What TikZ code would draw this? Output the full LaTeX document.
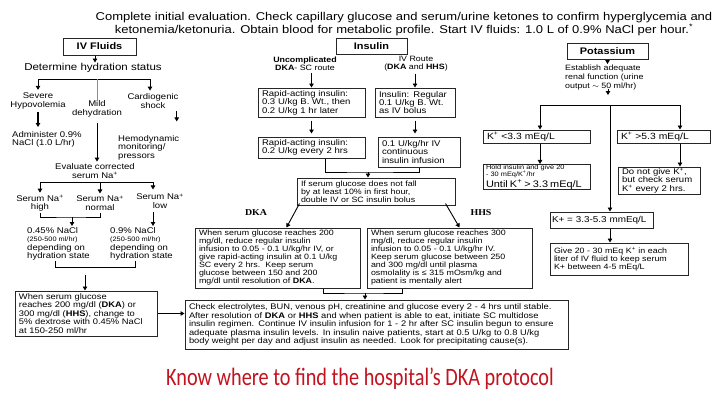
\documentclass[tikz,border=0pt]{standalone}
\usepackage{fontspec}
\setmainfont[FakeStretch=1.15]{Liberation Sans}
\newfontfamily\serifb[FakeStretch=1.1]{Liberation Serif}
\newfontfamily\footfont[FakeStretch=0.81]{Carlito}
\usetikzlibrary{arrows.meta,calc}
\definecolor{footred}{RGB}{196,18,30}
\newcommand\tightls{\lineskiplimit=-6pt\lineskip=0pt\relax}
\newcommand\smtxt{\fontsize{8.3}{8.4}\selectfont\tightls}
\newcommand\dktxt{\fontsize{7.7}{8}\selectfont\tightls}
\newcommand\esttxt{\fontsize{7.7}{8.8}\selectfont}
\newcommand\bottxt{\fontsize{8.1}{8.5}\selectfont\tightls}
\newcommand\tinytxt{\fontsize{6.4}{7}\selectfont}
\newcommand\hdtxt{\fontsize{11.3}{13}\selectfont}
\newcommand\mdtxt{\fontsize{10}{12}\selectfont}
\newcommand\ttltxt{\fontsize{9.5}{11}\selectfont\bfseries}
\newcommand\ktxt{\fontsize{9}{10}\selectfont}
\newcommand\kbtxt{\fontsize{9.5}{10}\selectfont}
\begin{document}
\begin{tikzpicture}[x=1pt,y=-1pt,
  bx/.style={draw=black!85, line width=1pt, inner xsep=4pt, inner ysep=1pt, align=left, font=\smtxt},
  tb/.style={draw=black!85, line width=1pt, inner sep=0pt, font=\ttltxt},
  lbl/.style={inner sep=0pt, align=center, font=\smtxt},
  arr/.style={-{Triangle[length=4pt,width=4.5pt]}, line width=0.9pt},
  ln/.style={line width=0.9pt}]
\useasboundingbox (0,0) rectangle (720,405);
\fill[white] (0,0) rectangle (720,405);

% header
\node[inner sep=0pt, align=center, font=\hdtxt] (head) at (404,24) {Complete initial evaluation. Check capillary glucose and serum/urine ketones to confirm hyperglycemia and\\ketonemia/ketonuria. Obtain blood for metabolic profile. Start IV fluids: 1.0 L of 0.9\% NaCl per hour.\textsuperscript{*}};

% ---------- IV fluids column
\node[tb, minimum width=73, minimum height=17] (ivf) at (99.5,46.5) {IV Fluids};
\node[lbl, font=\mdtxt] (det) at (93,68) {Determine hydration status};
\node[lbl] (sev) at (38,101) {Severe\\Hypovolemia};
\node[lbl] (mild) at (97,109) {Mild\\dehydration};
\node[lbl] (card) at (153,101) {Cardiogenic\\shock};
\node[lbl, anchor=north west, align=left] (adm) at (12,131) {Administer 0.9\%\\NaCl (1.0 L/hr)};
\node[lbl, anchor=north west, align=left] (hemo) at (118,135) {Hemodynamic\\monitoring/\\pressors};
\node[lbl] (eval) at (95,171) {Evaluate corrected\\serum Na\textsuperscript{+}};
\node[lbl] (nah) at (40,203) {Serum Na\textsuperscript{+}\\high};
\node[lbl] (nan) at (100,203) {Serum Na\textsuperscript{+}\\normal};
\node[lbl] (nal) at (160,201) {Serum Na\textsuperscript{+}\\low};
\node[lbl, anchor=north west, align=left] (c045) at (27,227) {0.45\% NaCl\\{\tinytxt (250-500 ml/hr)}\\depending on\\hydration state};
\node[lbl, anchor=north west, align=left] (c09) at (110,227) {0.9\% NaCl\\{\tinytxt (250-500 ml/hr)}\\depending on\\hydration state};
\node[bx, font=\bottxt, minimum width=142, text width=134, minimum height=45] (gl) at (86,313.5) {When serum glucose\\reaches 200 mg/dl (\textbf{DKA}) or\\300 mg/dl (\textbf{HHS}), change to\\5\% dextrose with 0.45\% NaCl\\at 150-250 ml/hr};

\node[bx, font=\bottxt, minimum width=383, text width=375, minimum height=49] (bot) at (376.5,324.5) {Check electrolytes, BUN, venous pH, creatinine and glucose every 2 - 4 hrs until stable.\\After resolution of \textbf{DKA} or \textbf{HHS} and when patient is able to eat, initiate SC multidose\\insulin regimen. Continue IV insulin infusion for 1 - 2 hr after SC insulin begun to ensure\\adequate plasma insulin levels. In insulin naive patients, start at 0.5 U/kg to 0.8 U/kg\\body weight per day and adjust insulin as needed. Look for precipitating cause(s).};

% connectors column 1
\coordinate (h1l) at (38,79);
\coordinate (h1r) at (150,79);
\coordinate (h1m) at (97,79);
\draw[arr] (ivf.south -| det.north) ++(2,0) -- ++(0,7);
\draw[ln] (h1l) -- (h1r);
\draw[arr] (h1l) -- ([yshift=3pt]sev.north -| h1l);
\draw[arr] (h1r) -- ([yshift=3pt]card.north -| h1r);
\draw[ln, black!45] (h1m) -- (mild.north -| h1m);
\draw[arr, line width=1.6pt] ([yshift=-3pt]sev.south) -- ([yshift=4pt]sev.south |- adm.north);
\draw[arr] ([yshift=-3pt]card.south -| hemo.north) ++(28,0) -- ++(0,10);
\draw[arr] ([yshift=-6pt]mild.south) -- ([yshift=2pt]mild.south |- eval.north);
\coordinate (h2l) at (40,182);
\coordinate (h2r) at (153,182);
\coordinate (h2m) at (100,182);
\draw[ln] (h2l) -- (h2r);
\draw[arr] (h2l) -- ([yshift=2pt]nah.north -| h2l);
\draw[arr] (h2m) -- ([yshift=2pt]nan.north -| h2m);
\draw[arr] (h2r) -- ([yshift=4pt]nal.north -| h2r);
\coordinate (bk1) at (72,217);
\draw[ln] ([yshift=-2pt]nah.south) |- (bk1) -| ([yshift=-2pt]nan.south);
\draw[arr] (bk1) -- ([yshift=1pt]bk1 |- c045.north);
\draw[arr] ([yshift=-3pt]nal.south -| h2r) -- ([yshift=1pt]h2r |- c09.north);
\coordinate (bk2l) at (55,261);
\coordinate (bk2r) at (135,261);
\coordinate (bk2a) at (85,275);
\draw[ln] (bk2l) -- ++(0,6) -| (bk2r);
\draw[arr] (bk2a) -- (bk2a |- gl.north);
\draw[arr] (gl.east) -- (bot.west |- gl.east);

% ---------- Insulin column
\node[tb, minimum width=71, minimum height=16] (ins) at (371.5,46) {Insulin};
\node[lbl, font=\dktxt] (unc) at (305,64) {\textbf{Uncomplicated}\\\textbf{DKA}- SC route};
\node[lbl, font=\dktxt] (ivr) at (416,64) {IV Route\\(\textbf{DKA} and \textbf{HHS})};
\node[bx, minimum width=107, text width=99, minimum height=29] (b1) at (311.5,102.5) {Rapid-acting insulin:\\0.3 U/kg B. Wt., then\\0.2 U/kg 1 hr later};
\node[bx, minimum width=80, text width=72, minimum height=29] (b2) at (415,102.5) {Insulin: Regular\\0.1 U/kg B. Wt.\\as IV bolus};
\node[bx, minimum width=107, text width=99, minimum height=21] (b3) at (311.5,147.5) {Rapid-acting insulin:\\0.2 U/kg every 2 hrs};
\node[bx, minimum width=82, text width=74, minimum height=30] (b4) at (419,152) {0.1 U/kg/hr IV\\continuous\\insulin infusion};
\node[bx, font=\dktxt, minimum width=158, text width=150, minimum height=27] (b5) at (376,191.5) {If serum glucose does not fall\\by at least 10\% in first hour,\\double IV or SC insulin bolus};
\node[inner sep=0pt, font=\serifb\bfseries\fontsize{9}{10}\selectfont] (dkal) at (256,213) {DKA};
\node[inner sep=0pt, font=\serifb\bfseries\fontsize{9}{10}\selectfont] (hhsl) at (481,213) {HHS};
\node[bx, font=\dktxt, minimum width=165, text width=157, minimum height=60] (dka) at (277.5,258) {When serum glucose reaches 200\\mg/dl, reduce regular insulin\\infusion to 0.05 - 0.1 U/kg/hr IV, or\\give rapid-acting insulin at 0.1 U/kg\\SC every 2 hrs.\ \ Keep serum\\glucose between 150 and 200\\mg/dl until resolution of \textbf{DKA}.};
\node[bx, font=\dktxt, minimum width=165, text width=157, minimum height=60] (hhs) at (449.5,258) {When serum glucose reaches 300\\mg/dl, reduce regular insulin\\infusion to 0.05 - 0.1 U/kg/hr IV.\\Keep serum glucose between 250\\and 300 mg/dl until plasma\\osmolality is ≤ 315 mOsm/kg and\\patient is mentally alert};

\draw[arr] ([yshift=-2pt]b1.north |- unc.south) -- (b1.north);
\draw[arr] ([yshift=-2pt]b2.north |- ivr.south) -- (b2.north);
\draw[arr] ([yshift=-3pt]b1.south) -- ([yshift=3pt]b3.north);
\draw[arr] ([yshift=-3pt]b2.south) -- ([yshift=3pt]b2.south |- b4.north);
\coordinate (bk3) at (368,172);
\draw[ln] ($(b3.south)+(13.5,0)$) |- (bk3) -| (b4.south);
\draw[arr] (bk3) -- (bk3 |- b5.north);
\draw[arr] ([shift={(3,-2)}]b5.south west) -- ([xshift=92pt]dka.north west);
\draw[arr] ([shift={(-10,-2)}]b5.south east) -- ([xshift=93pt]hhs.north west);
\coordinate (bk4) at (365,293);
\draw[ln] ($(dka.south east)+(-37,0)$) |- (bk4) -| ($(hhs.south west)+(36,0)$);
\draw[arr] (bk4) -- (bk4 |- bot.north);

% ---------- Potassium column
\node[tb, minimum width=81, minimum height=16] (pot) at (607.5,51) {Potassium};
\node[lbl, font=\esttxt, anchor=north west, align=left] (est) at (565,65) {Establish adequate\\renal function (urine\\output $\sim$ 50 ml/hr)};
\node[bx, font=\ktxt, minimum width=107, text width=99, minimum height=13] (klo) at (536.5,136.5) {K\textsuperscript{+} <3.3 mEq/L};
\node[bx, font=\ktxt, minimum width=93, text width=85, minimum height=13] (khi) at (663.5,136.5) {K\textsuperscript{+} >5.3 mEq/L};
\node[bx, font=\tinytxt, minimum width=107, text width=101, inner xsep=3pt, inner ysep=0pt, minimum height=24] (hold) at (536.5,177) {Hold insulin and give 20\\- 30 mEq/K\textsuperscript{+}/hr\\[1.5pt]{\kbtxt Until K\textsuperscript{+} > 3.3 mEq/L}};
\node[bx, minimum width=82, text width=74, minimum height=27] (dont) at (659,180.5) {Do not give K\textsuperscript{+},\\but check serum\\K\textsuperscript{+} every 2 hrs.};
\node[bx, font=\fontsize{8.6}{10}\selectfont, minimum width=103, text width=99, inner xsep=2pt, minimum height=16] (kok) at (601.5,220) {K+ = 3.3-5.3 mmEq/L};
\node[bx, font=\dktxt, minimum width=138, text width=130, minimum height=32] (give) at (619,259) {Give 20 - 30 mEq K\textsuperscript{+} in each\\liter of IV fluid to keep serum\\K+ between 4-5 mEq/L};

\draw[arr] (pot.south) -- ([yshift=1pt]pot.south |- est.north);
\coordinate (kar) at (608,89);
\draw[arr] (kar) -- ++(0,6);
\coordinate (kl) at (540,105);
\coordinate (kr) at (680,105);
\coordinate (kj) at (610,105);
\draw[ln] (kl) -- (kr);
\draw[arr] (kl) -- (kl |- klo.north);
\draw[arr] (kr) -- (kr |- khi.north);
\draw[arr] (kj) -- (kj |- kok.north);
\draw[arr] (klo.south -| kl) -- (kl |- hold.north);
\draw[arr] (khi.south -| kr) -- (kr |- dont.north);
\draw[arr] (kok.south -| kj) -- (kj |- give.north);

% footer
\node[anchor=base, inner sep=0pt, text=footred, font=\footfont\fontsize{25}{28}\selectfont] (foot) at (360,385) {Know where to find the hospital’s DKA protocol};
\end{tikzpicture}
\end{document}
